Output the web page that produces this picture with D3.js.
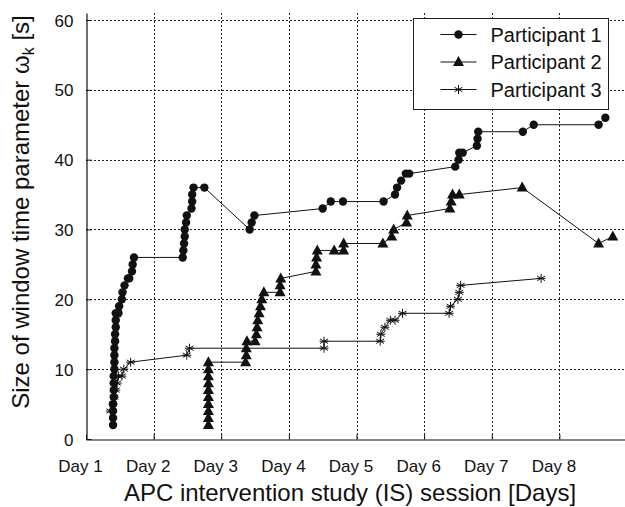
<!DOCTYPE html>
<html>
<head>
<meta charset="utf-8">
<script src="https://cdn.jsdelivr.net/npm/d3@7"></script>
<style>
  body { margin: 0; background: #fff; }
  svg { font-family: "Liberation Sans", Arial, sans-serif; }
</style>
</head>
<body>
<div class="canvas"></div>
<script>
// data (day position, window size in s)
const p1Days = [1.40, 1.40, 1.40, 1.40, 1.41, 1.41, 1.41, 1.41, 1.42, 1.42, 1.42, 1.42, 1.43, 1.43, 1.44, 1.44, 1.44,
  1.48, 1.49, 1.53, 1.54, 1.57, 1.62, 1.64, 1.68, 1.69, 1.71,
  2.43, 2.44, 2.45, 2.46, 2.46, 2.48, 2.49, 2.56, 2.57, 2.57, 2.59, 2.75,
  3.42, 3.45, 3.49, 4.50, 4.62, 4.80,
  5.40, 5.57, 5.60, 5.66, 5.73, 5.78,
  6.46, 6.51, 6.52, 6.57, 6.78, 6.79, 6.80, 7.46, 7.62, 8.58, 8.68];
const p1Values = [2, 3, 4, 5, 6, 7, 8, 9, 10, 11, 12, 13, 14, 15, 16, 17, 18,
  18, 19, 20, 21, 22, 23, 23, 24, 25, 26,
  26, 27, 28, 29, 30, 31, 32, 33, 34, 35, 36, 36,
  30, 31, 32, 33, 34, 34,
  34, 35, 36, 37, 38, 38,
  39, 40, 41, 41, 42, 43, 44, 44, 45, 45, 46];

const p2Days = [2.81, 2.81, 2.81, 2.81, 2.81, 2.81, 2.81, 2.81, 2.81, 2.81,
  3.36, 3.37, 3.37, 3.38,
  3.50, 3.52, 3.53, 3.54, 3.56, 3.58, 3.60, 3.63,
  3.87, 3.87, 3.88,
  4.40, 4.40, 4.41, 4.42, 4.67, 4.81, 4.81,
  5.39, 5.52, 5.55, 5.74, 5.75,
  6.38, 6.40, 6.42, 6.52, 7.45, 8.58, 8.79];
const p2Values = [2, 3, 4, 5, 6, 7, 8, 9, 10, 11,
  11, 12, 13, 14,
  14, 15, 16, 17, 18, 19, 20, 21,
  21, 22, 23,
  24, 25, 26, 27, 27, 27, 28,
  28, 29, 30, 31, 32,
  33, 34, 35, 35, 36, 28, 29];

const p3Days = [1.36, 1.40, 1.42, 1.44, 1.46, 1.48, 1.53, 1.56, 1.66,
  2.49, 2.53, 4.52, 4.52,
  5.35, 5.36, 5.42, 5.50, 5.57, 5.68,
  6.37, 6.39, 6.50, 6.52, 6.54, 7.73];
const p3Values = [4, 5, 6, 7, 8, 9, 9, 10, 11,
  12, 13, 13, 14,
  14, 15, 16, 17, 17, 18,
  18, 19, 20, 21, 22, 23];

const dayLabels = ['Day 1', 'Day 2', 'Day 3', 'Day 4', 'Day 5', 'Day 6', 'Day 7', 'Day 8'];
const yTicks = [0, 10, 20, 30, 40, 50, 60];
const seriesNames = ['Participant 1', 'Participant 2', 'Participant 3'];

const dims = { width: 625, height: 507 };
const plot = { left: 86, right: 627, top: 13, bottom: 439 };

const svg = d3.select('.canvas')
    .append('svg')
    .attr('width', dims.width)
    .attr('height', dims.height);

const x = d3.scaleLinear().domain([1, 9]).range([plot.left, plot.right]);
const y = d3.scaleLinear().domain([0, 61]).range([plot.bottom, plot.top]);

// grid
const grid = svg.append('g')
    .attr('stroke', '#222')
    .attr('stroke-width', 1)
    .attr('stroke-dasharray', '2,2');

grid.selectAll('line.v')
    .data(d3.range(2, 9))
    .enter().append('line')
    .attr('x1', d => Math.round(x(d)) + 0.5)
    .attr('x2', d => Math.round(x(d)) + 0.5)
    .attr('y1', plot.top)
    .attr('y2', plot.bottom);

grid.selectAll('line.h')
    .data(yTicks.slice(1))
    .enter().append('line')
    .attr('y1', d => Math.round(y(d)) + 0.5)
    .attr('y2', d => Math.round(y(d)) + 0.5)
    .attr('x1', plot.left)
    .attr('x2', plot.right);

// axes
const yAxis = d3.axisLeft(y)
    .tickValues(yTicks)
    .tickSizeInner(-5)
    .tickSizeOuter(0)
    .tickPadding(13);

const xAxis = d3.axisBottom(x)
    .tickValues(d3.range(1, 9))
    .tickSizeInner(-5)
    .tickSizeOuter(0)
    .tickPadding(20)
    .tickFormat(d => dayLabels[d - 1]);

const yG = svg.append('g')
    .attr('transform', `translate(${plot.left + 0.5}, 0)`)
    .call(yAxis);

const xG = svg.append('g')
    .attr('transform', `translate(0, ${plot.bottom + 0.5})`)
    .call(xAxis);

[yG, xG].forEach(g => {
    g.select('.domain').attr('stroke', '#111').attr('stroke-width', 1.2);
    g.selectAll('.tick line').attr('stroke', '#111');
    g.selectAll('text').attr('fill', '#111')
        .attr('font-family', '"Liberation Sans", Arial, sans-serif');
});
yG.selectAll('text').attr('font-size', 17).attr('dy', '0.36em');
xG.selectAll('text').attr('font-size', 17).attr('dx', -6);

// axis titles
svg.append('text')
    .attr('x', 350)
    .attr('y', 501)
    .attr('text-anchor', 'middle')
    .attr('font-size', 24)
    .attr('fill', '#111')
    .text('APC intervention study (IS) session [Days]');

const yTitle = svg.append('text')
    .attr('transform', 'translate(29, 212) rotate(-90)')
    .attr('text-anchor', 'middle')
    .attr('font-size', 24)
    .attr('fill', '#111');
yTitle.append('tspan').text('Size of window time parameter \u03c9');
yTitle.append('tspan').attr('font-size', 16).attr('dy', 5).text('k');
yTitle.append('tspan').attr('dy', -5).text(' [s]');

// series
const line = d3.line().x(d => x(d[0])).y(d => y(d[1]));
const zip = (a, b) => a.map((d, i) => [d, b[i]]);

const series = [
    { name: seriesNames[0], pts: zip(p1Days, p1Values), marker: 'circle' },
    { name: seriesNames[1], pts: zip(p2Days, p2Values), marker: 'triangle' },
    { name: seriesNames[2], pts: zip(p3Days, p3Values), marker: 'star' }
];

const starPath = (r) => {
    const a = Math.PI / 6;
    const dx = r * Math.cos(a), dy = r * Math.sin(a);
    return `M0,${-r}L0,${r}M${-dx},${-dy}L${dx},${dy}M${-dx},${dy}L${dx},${-dy}M${-r},0L${r},0`;
};

const drawMarker = (g, type, cx, cy) => {
    if (type === 'circle') {
        g.append('circle').attr('cx', cx).attr('cy', cy).attr('r', 4.2).attr('fill', '#111');
    } else if (type === 'triangle') {
        g.append('path')
            .attr('d', 'M0,-6L5.5,4L-5.5,4Z')
            .attr('transform', `translate(${cx}, ${cy})`)
            .attr('fill', '#111');
    } else {
        g.append('path')
            .attr('d', starPath(4.5))
            .attr('transform', `translate(${cx}, ${cy})`)
            .attr('fill', 'none')
            .attr('stroke', '#111')
            .attr('stroke-width', 1);
    }
};

const graph = svg.append('g');

series.forEach(s => {
    graph.append('path')
        .datum(s.pts)
        .attr('d', line)
        .attr('fill', 'none')
        .attr('stroke', '#111')
        .attr('stroke-width', 1);
    const mg = graph.append('g');
    s.pts.forEach(p => drawMarker(mg, s.marker, x(p[0]), y(p[1])));
});

// legend
const legendGroup = svg.append('g').attr('transform', 'translate(413.5, 18.5)');
legendGroup.append('rect')
    .attr('width', 195)
    .attr('height', 91)
    .attr('fill', '#fff')
    .attr('stroke', '#222')
    .attr('stroke-width', 1);

series.forEach((s, i) => {
    const cy = 16 + i * 27.5;
    const row = legendGroup.append('g');
    row.append('line')
        .attr('x1', 27).attr('x2', 63)
        .attr('y1', cy).attr('y2', cy)
        .attr('stroke', '#111');
    drawMarker(row, s.marker, 45, cy);
    row.append('text')
        .attr('x', 77)
        .attr('y', cy)
        .attr('dy', '0.36em')
        .attr('font-size', 20)
        .attr('fill', '#111')
        .text(s.name);
});
</script>
</body>
</html>
